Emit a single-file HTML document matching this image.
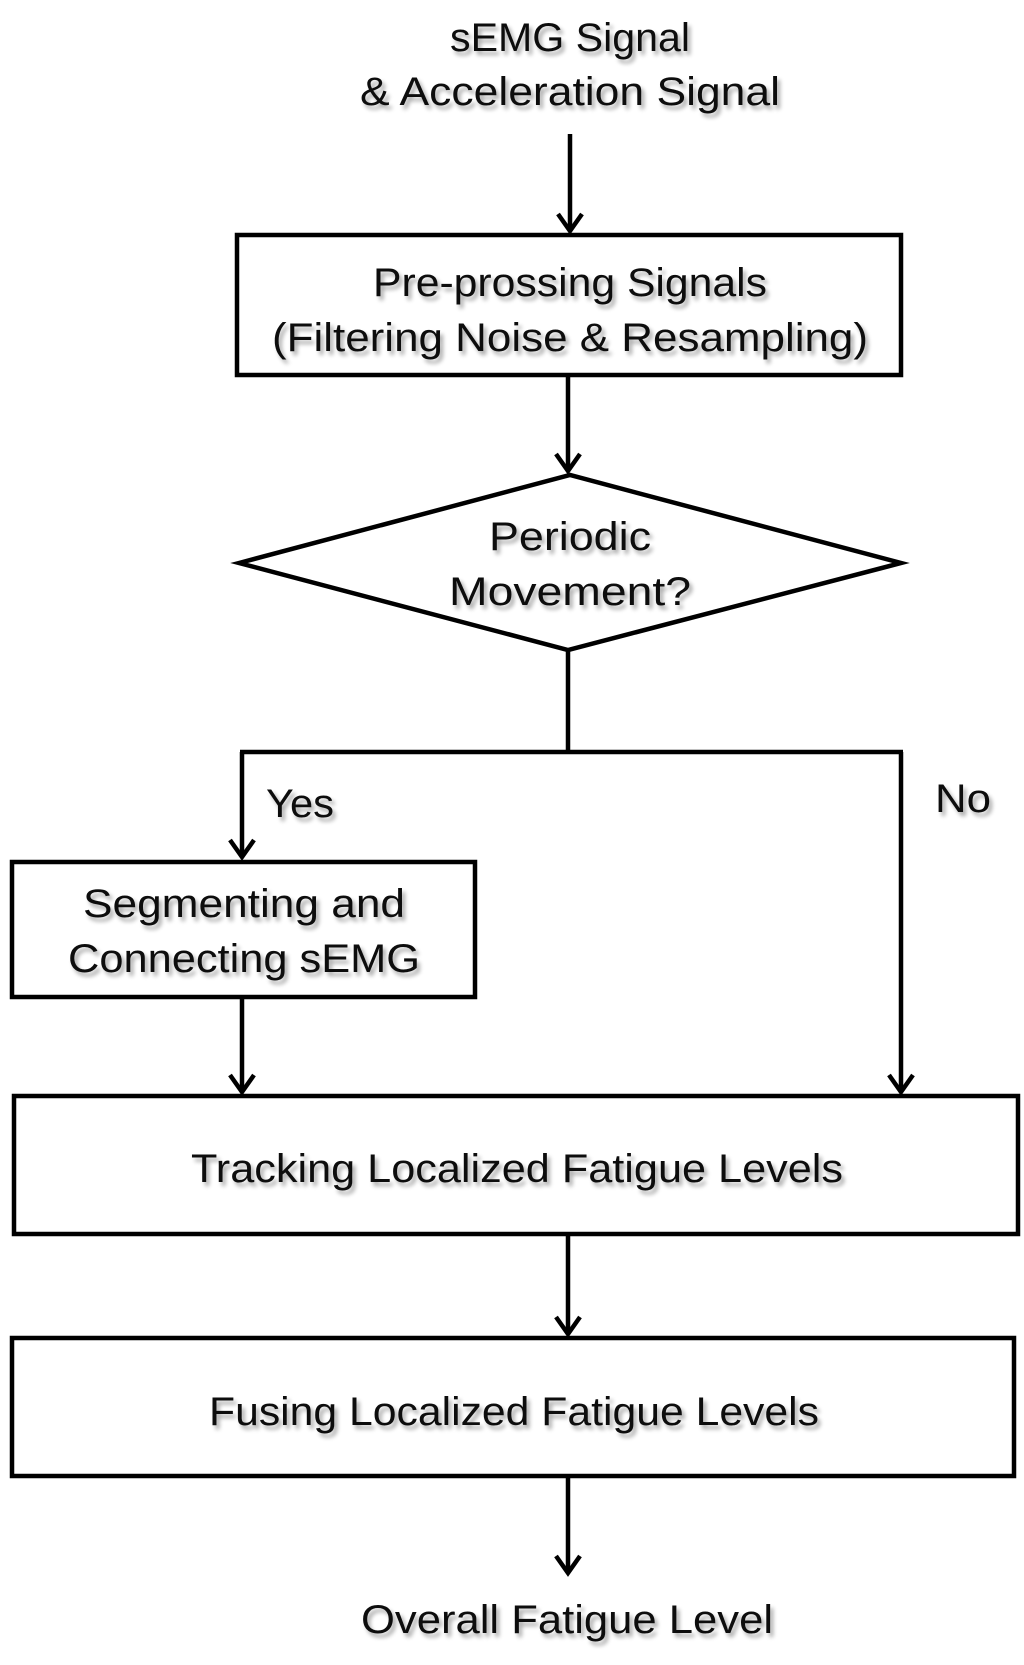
<!DOCTYPE html>
<html><head><meta charset="utf-8"><style>
html,body{margin:0;padding:0;background:#fff;}
svg text{font-family:"Liberation Sans",sans-serif;font-size:40px;fill:#111;text-anchor:middle;}
</style></head><body>
<svg width="1024" height="1660" viewBox="0 0 1024 1660" xmlns="http://www.w3.org/2000/svg">
<defs>
<filter id="sh" x="-5%" y="-20%" width="110%" height="140%">
<feGaussianBlur in="SourceAlpha" stdDeviation="2"/>
<feOffset dx="3" dy="4"/>
<feComponentTransfer><feFuncA type="linear" slope="0.35"/></feComponentTransfer>
<feMerge><feMergeNode/><feMergeNode in="SourceGraphic"/></feMerge>
</filter>
</defs>
<g transform="translate(1,2)">
<g stroke="#000" stroke-width="4.5" fill="none">
<rect x="236" y="233" width="664" height="140"/>
<polygon points="238,561 569,473 900,561 567,648"/>
<rect x="11" y="860" width="463" height="135"/>
<rect x="13" y="1094" width="1004" height="138"/>
<rect x="11" y="1336" width="1002" height="138"/>
<line x1="569" y1="132" x2="569" y2="229"/>
<line x1="567" y1="373" x2="567" y2="469"/>
<line x1="567" y1="648" x2="567" y2="750"/>
<line x1="239" y1="750" x2="902" y2="750"/>
<line x1="241" y1="750" x2="241" y2="855"/>
<line x1="900" y1="750" x2="900" y2="1090"/>
<line x1="241" y1="995" x2="241" y2="1090"/>
<line x1="567" y1="1232" x2="567" y2="1332"/>
<line x1="567" y1="1474" x2="567" y2="1571"/>
<g stroke-width="4.5" stroke-linejoin="miter">
<polyline points="557,212 569,229 581,212"/>
<polyline points="555,452 567,469 579,452"/>
<polyline points="229,838 241,855 253,838"/>
<polyline points="888,1073 900,1090 912,1073"/>
<polyline points="229,1073 241,1090 253,1073"/>
<polyline points="555,1315 567,1332 579,1315"/>
<polyline points="555,1554 567,1571 579,1554"/>
</g>
</g>
<g filter="url(#sh)">
<text x="569" y="49" textLength="240" lengthAdjust="spacingAndGlyphs">sEMG Signal</text>
<text x="569" y="103" textLength="420" lengthAdjust="spacingAndGlyphs">&amp; Acceleration Signal</text>
<text x="569" y="294" textLength="394" lengthAdjust="spacingAndGlyphs">Pre-prossing Signals</text>
<text x="569" y="349" textLength="596" lengthAdjust="spacingAndGlyphs">(Filtering Noise &amp; Resampling)</text>
<text x="569" y="548" textLength="162" lengthAdjust="spacingAndGlyphs">Periodic</text>
<text x="569" y="603" textLength="242" lengthAdjust="spacingAndGlyphs">Movement?</text>
<text x="299" y="815" textLength="68" lengthAdjust="spacingAndGlyphs">Yes</text>
<text x="962" y="810" textLength="56" lengthAdjust="spacingAndGlyphs">No</text>
<text x="243" y="915" textLength="322" lengthAdjust="spacingAndGlyphs">Segmenting and</text>
<text x="243" y="970" textLength="352" lengthAdjust="spacingAndGlyphs">Connecting sEMG</text>
<text x="516" y="1180" textLength="652" lengthAdjust="spacingAndGlyphs">Tracking Localized Fatigue Levels</text>
<text x="513" y="1423" textLength="610" lengthAdjust="spacingAndGlyphs">Fusing Localized Fatigue Levels</text>
<text x="566" y="1631" textLength="412" lengthAdjust="spacingAndGlyphs">Overall Fatigue Level</text>
</g>
</g>
</svg>
</body></html>
